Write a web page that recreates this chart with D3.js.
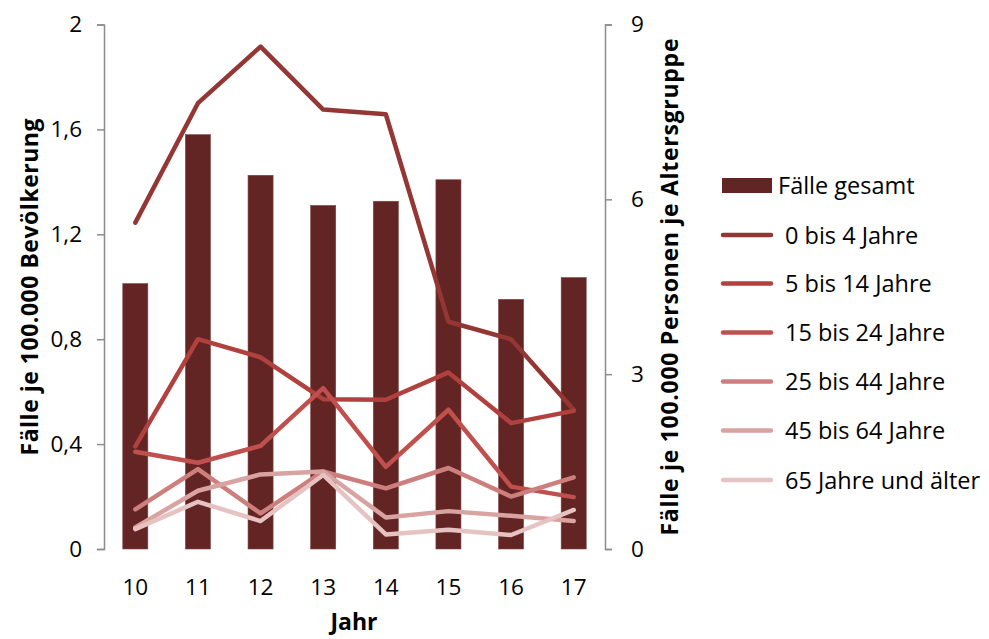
<!DOCTYPE html>
<html><head><meta charset="utf-8">
<script src="https://cdn.jsdelivr.net/npm/d3@7"></script>
<style>
body{margin:0;background:#fff;}
svg{display:block;font-family:"Open Sans","Noto Sans",sans-serif;}
</style></head>
<body><svg id="chart" width="989" height="639"></svg>
<script>
const categories = ["10","11","12","13","14","15","16","17"];
const totalCases = [1.012, 1.580, 1.425, 1.310, 1.326, 1.408, 0.952, 1.035];
const seriesNames = ["0 bis 4 Jahre","5 bis 14 Jahre","15 bis 24 Jahre","25 bis 44 Jahre","45 bis 64 Jahre","65 Jahre und älter"];
const age0to4   = [5.60, 7.65, 8.62, 7.54, 7.46, 3.90, 3.60, 2.39];
const age5to14  = [1.76, 3.60, 3.29, 2.57, 2.56, 3.03, 2.16, 2.37];
const age15to24 = [1.67, 1.48, 1.77, 2.76, 1.41, 2.39, 1.07, 0.89];
const age25to44 = [0.68, 1.37, 0.61, 1.33, 1.04, 1.39, 0.90, 1.23];
const age45to64 = [0.37, 1.00, 1.28, 1.33, 0.54, 0.65, 0.57, 0.48];
const age65plus = [0.34, 0.81, 0.48, 1.27, 0.25, 0.33, 0.24, 0.67];
const leftTicks = [0, 0.4, 0.8, 1.2, 1.6, 2];
const rightTicks = [0, 3, 6, 9];
const seriesValues = [age0to4, age5to14, age15to24, age25to44, age45to64, age65plus];
const seriesColors = ["#943634","#b0413e","#c0504d","#cd7f7d","#d9a3a1","#e6c3c2"];
const barColor = "#632523";

const svg = d3.select("#chart");
const x0 = 104, x1 = 605, yBottom = 549, yTop = 24.5;
const x = d3.scaleBand().domain(categories).range([x0, x1]).paddingInner(0.6).paddingOuter(0.3);
const yL = d3.scaleLinear().domain([0, 2]).range([yBottom, yTop]);
const yR = d3.scaleLinear().domain([0, 9]).range([yBottom, yTop]);
const fmt = d => d3.format(".1f")(d).replace(".", ",").replace(/,0$/, "");

// left axis
const gL = svg.append("g").attr("transform", `translate(${x0},0)`)
  .call(d3.axisLeft(yL).tickValues(leftTicks).tickFormat(d => d === 0 || d === 2 ? String(d) : fmt(d)).tickSizeOuter(0).tickSize(7).tickPadding(15));
// right axis
const gR = svg.append("g").attr("transform", `translate(${x1},0)`)
  .call(d3.axisRight(yR).tickValues(rightTicks).tickFormat(d3.format("d")).tickSizeOuter(0).tickSize(7).tickPadding(19));
[gL, gR].forEach(g => {
  g.select(".domain").attr("stroke", "#8c8c8c").attr("stroke-width", 1.5);
  g.selectAll(".tick line").attr("stroke", "#8c8c8c").attr("stroke-width", 1.5);
  g.selectAll(".tick text").attr("fill", "#000").attr("font-size", 22.5).attr("font-family", "Open Sans");
});

// x labels
svg.append("g").selectAll("text").data(categories).join("text")
  .attr("x", d => x(d) + x.bandwidth() / 2).attr("y", 595)
  .attr("text-anchor", "middle").attr("font-size", 22.5).text(d => d);

// bars
svg.append("g").selectAll("rect").data(totalCases).join("rect")
  .attr("x", (d, i) => x(categories[i])).attr("width", x.bandwidth())
  .attr("y", d => yL(d)).attr("height", d => yBottom - yL(d))
  .attr("fill", barColor).attr("stroke", "#7d4644").attr("stroke-width", 0.6);

// lines
const line = d3.line().x((d, i) => x(categories[i]) + x.bandwidth() / 2).y(d => yR(d));
svg.append("g").selectAll("path").data(seriesValues).join("path")
  .attr("d", d => line(d)).attr("fill", "none")
  .attr("stroke", (d, i) => seriesColors[i]).attr("stroke-width", 4.5)
  .attr("stroke-linecap", "round").attr("stroke-linejoin", "round");

// axis titles
svg.append("text").attr("transform", "translate(38,287) rotate(-90)")
  .attr("text-anchor", "middle").attr("font-weight", "bold").attr("font-size", 23)
  .attr("textLength", 337).attr("lengthAdjust", "spacing")
  .text("Fälle je 100.000 Bevölkerung");
svg.append("text").attr("transform", "translate(678,287) rotate(-90)")
  .attr("text-anchor", "middle").attr("font-weight", "bold").attr("font-size", 23)
  .attr("textLength", 497).attr("lengthAdjust", "spacing")
  .text("Fälle je 100.000 Personen je Altersgruppe");
svg.append("text").attr("x", 354).attr("y", 630)
  .attr("text-anchor", "middle").attr("font-weight", "bold").attr("font-size", 23)
  .text("Jahr");

// legend
const lg = svg.append("g");
lg.append("rect").attr("x", 722).attr("y", 178).attr("width", 50).attr("height", 15).attr("fill", barColor);
lg.append("text").attr("x", 778).attr("y", 194).attr("font-size", 23.5).text("Fälle gesamt");
const legY = [235, 283.5, 332.5, 381.5, 430.5, 480];
seriesNames.forEach((n, i) => {
  lg.append("line").attr("x1", 723).attr("x2", 771).attr("y1", legY[i]).attr("y2", legY[i])
    .attr("stroke", seriesColors[i]).attr("stroke-width", 4.5).attr("stroke-linecap", "round");
  lg.append("text").attr("x", 785).attr("y", legY[i] + 8.5).attr("font-size", 23.5).text(n);
});
</script></body></html>
